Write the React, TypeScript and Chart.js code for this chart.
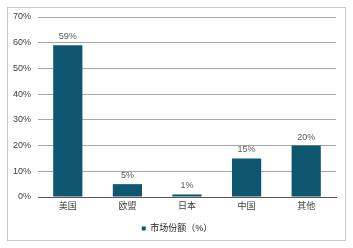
import React, { useEffect, useRef } from "react";
import { Chart, registerables } from "chart.js";

Chart.register(...registerables);

const categories = ["美国", "欧盟", "日本", "中国", "其他"];
const shareValues = [59, 5, 1, 15, 20];
const seriesName = "市场份额（%）";
const yTicks = [0, 10, 20, 30, 40, 50, 60, 70];

const BAR_COLOR = "#0f5670";
const FONT = "'Liberation Sans', 'Noto Sans CJK SC', sans-serif";

const valueLabels = {
  id: "valueLabels",
  afterDatasetsDraw(chart: any) {
    const ctx = chart.ctx;
    const meta = chart.getDatasetMeta(0);
    ctx.save();
    ctx.font = `9px ${FONT}`;
    ctx.fillStyle = "#595959";
    ctx.textAlign = "center";
    ctx.textBaseline = "bottom";
    meta.data.forEach((el: any, i: number) => {
      ctx.fillText(`${shareValues[i]}%`, el.x, el.y - 4);
    });
    ctx.restore();
  },
};

const shiftLegend = {
  id: "shiftLegend",
  afterLayout(chart: any) {
    if (chart.legend) {
      chart.legend.left += 9;
      chart.legend.right += 9;
    }
  },
};

export default function App() {
  const ref = useRef<HTMLCanvasElement>(null);
  useEffect(() => {
    if (!ref.current) return;
    const chart = new Chart(ref.current, {
      type: "bar",
      data: {
        labels: categories,
        datasets: [
          {
            label: seriesName,
            data: shareValues,
            backgroundColor: BAR_COLOR,
            borderWidth: 0,
            barPercentage: 0.49,
            categoryPercentage: 1,
          },
        ],
      },
      options: {
        animation: false,
        responsive: false,
        maintainAspectRatio: false,
        layout: { padding: { left: 0, right: 17, top: 17, bottom: 5 } },
        plugins: {
          tooltip: { enabled: false },
          legend: {
            display: true,
            position: "bottom",
            labels: {
              boxWidth: 4,
              boxHeight: 4,
              padding: 4,
              color: "#262626",
              font: { size: 9, family: FONT },
            },
          },
        },
        scales: {
          x: {
            grid: { display: false, drawTicks: false },
            border: { display: true, color: "#595959", width: 1 },
            ticks: {
              color: "#404040",
              font: { size: 9, family: FONT },
              padding: 4,
            },
            afterFit(scale: any) {
              scale.height = 23;
            },
          },
          y: {
            min: 0,
            max: 70,
            afterBuildTicks(scale: any) {
              scale.ticks = yTicks.map((v) => ({ value: v }));
            },
            grid: { color: "#a6a6a6", drawTicks: false, lineWidth: 1 },
            border: { display: false },
            ticks: {
              color: "#404040",
              font: { size: 9, family: FONT },
              padding: 7,
              callback: (v: any) => `${v}%`,
            },
            afterFit(scale: any) {
              scale.width = 38;
            },
          },
        },
      },
      plugins: [valueLabels, shiftLegend],
    });
    return () => chart.destroy();
  }, []);
  return (
    <div style={{ position: "fixed", left: 0, top: 0, width: 353, height: 248, background: "#fff" }}>
      <div
        style={{
          position: "absolute",
          left: 7,
          top: 7,
          width: 337,
          height: 232,
          border: "1px solid #c8c8c8",
        }}
      />
      <canvas ref={ref} width={353} height={248} style={{ position: "absolute", left: 0, top: 0 }} />
    </div>
  );
}
